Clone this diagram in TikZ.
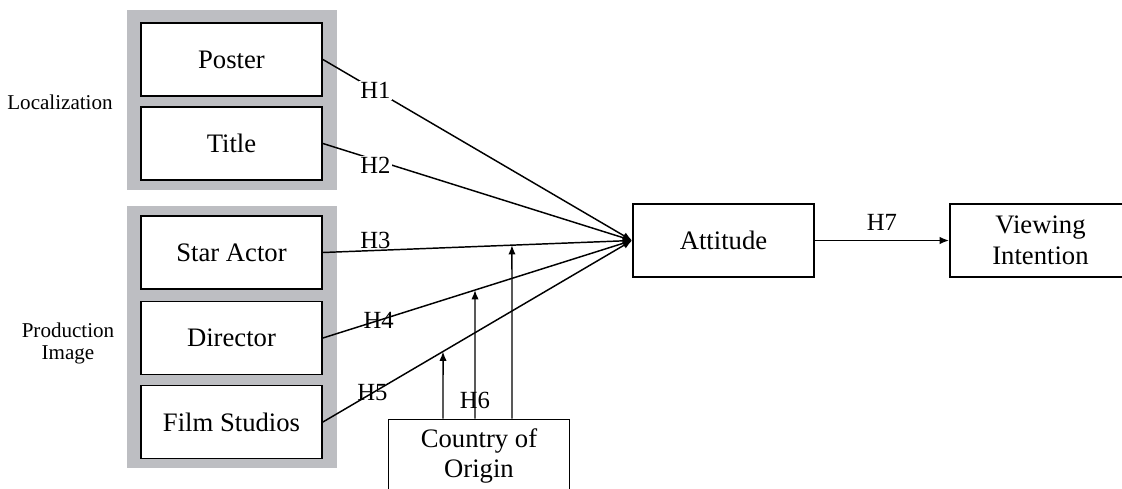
\documentclass[tikz,border=0pt]{standalone}
\usepackage{fontspec}
\setmainfont{Liberation Serif}
\usetikzlibrary{arrows.meta}
\definecolor{panelgray}{RGB}{189,190,194}
\begin{document}
\begin{tikzpicture}[x=0.75pt,y=-0.75pt,
  box/.style={draw=black,line width=1.4pt,fill=white,minimum width=135.75pt,
    minimum height=54.75pt,inner sep=0pt,align=center,
    font=\fontsize{20}{23}\selectfont},
  side/.style={align=center,font=\fontsize{15.8}{16.5}\selectfont},
  hyp/.style={inner sep=1pt,font=\fontsize{18.5}{20}\selectfont},
  link/.style={line width=1.1pt,-{Latex[length=7pt,width=5.5pt]}},
  arr/.style={line width=1.1pt,-{Latex[length=7pt,width=5.5pt]}}]
\useasboundingbox (0,0) rectangle (1122,489);
\clip (0,0) rectangle (1122,489);

% grey group panels
\fill[panelgray] (127,10) rectangle (337,190);
\fill[panelgray] (127,206) rectangle (337,468);

% constructs
\node[box] (poster) at (231.5,59.5) {Poster};
\node[box] (title)  at (231.5,143.5) {Title};
\node[box] (star)   at (231.5,252.5) {Star Actor};
\node[box] (dir)    at (231.5,338) {Director};
\node[box] (fs)     at (231.5,422) {Film Studios};
\node[box] (att)    at (723.5,240.5) {Attitude};
\node[box] (vi)     at (1040.5,240.5) {Viewing\\Intention};
\node[box] (coo)    at (479,456) {Country of\\Origin};

% group labels
\node[side] (loc)  at (60,102) {Localization};
\node[side] (prod) at (68,343) {Production\\Image};

% hypothesised paths
\draw[link] (poster.east) -- node[hyp,fill=white,pos=0.17] {H1} (att.west);
\draw[link] (title.east)  -- node[hyp,fill=white,pos=0.17,yshift=-4pt] {H2} (att.west);
\draw[link] (star.east)   -- node[hyp,above,pos=0.17] {H3} (att.west);
\draw[link] (dir.east)    -- node[hyp,pos=0.18] {H4} (att.west);
\draw[link] (fs.east)     -- node[hyp,pos=0.16] {H5} (att.west);
\draw[arr]  (att.east)    -- node[hyp,above=6pt] {H7} (vi.west);

% moderating effects of country of origin
\coordinate (b1) at (coo.north -| 443,0);
\coordinate (b2) at (coo.north -| 475,0);
\coordinate (b3) at (coo.north -| 512,0);
\coordinate (u1) at (443,200);
\coordinate (u2) at (475,200);
\coordinate (u3) at (512,200);
\draw[arr] (b1) -- (intersection of fs.east--att.west and b1--u1);
\draw[arr] (b2) -- (intersection of dir.east--att.west and b2--u2);
\draw[arr] (b3) -- (intersection of star.east--att.west and b3--u3);
\node[hyp] (h6) at (475,400) {H6};
\end{tikzpicture}
\end{document}
